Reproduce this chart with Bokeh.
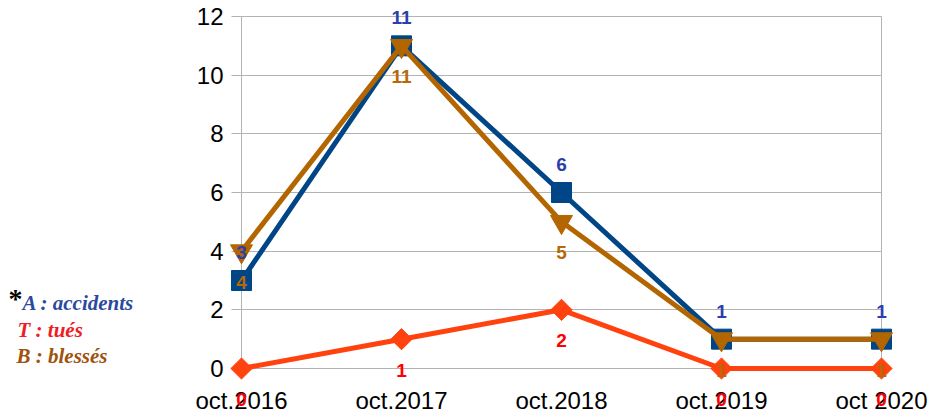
import math
from bokeh.plotting import figure
from bokeh.models import Range1d, FixedTicker, ColumnDataSource
from bokeh.core.properties import value
from bokeh.embed import file_html
from bokeh.resources import INLINE

categories = ["oct.2016", "oct.2017", "oct.2018", "oct.2019", "oct 2020"]
accidents = [3, 11, 6, 1, 1]
tues = [0, 1, 2, 0, 0]
blesses = [4, 11, 5, 1, 1]
y_ticks = [0, 2, 4, 6, 8, 10, 12]
legend_texts = ["A : accidents", "T : tués", "B : blessés"]
legend_colors = ["#2b4a9e", "#ee1c24", "#9e520c"]

x = list(range(len(categories)))

BLUE = "#004586"
RED = "#ff420e"
BROWN = "#b36600"
GRID = "#b3b3b3"

p = figure(width=930, height=416, output_backend="svg", toolbar_location=None,
           x_range=Range1d(0, len(categories) - 1), y_range=Range1d(0, 12),
           min_border_left=241, min_border_right=49, min_border_top=16, min_border_bottom=48)
p.background_fill_color = "white"
p.border_fill_color = "white"
p.outline_line_color = GRID

p.xgrid.visible = False
p.ygrid.grid_line_color = GRID
p.ygrid.ticker = FixedTicker(ticks=y_ticks)

p.yaxis.ticker = FixedTicker(ticks=y_ticks)
p.yaxis.axis_line_color = GRID
p.yaxis.major_tick_line_color = GRID
p.yaxis.major_tick_out = 10
p.yaxis.major_tick_in = 0
p.yaxis.minor_tick_line_color = None
p.yaxis.major_label_standoff = 8
p.yaxis.major_label_text_font = "Liberation Sans"
p.yaxis.major_label_text_font_size = "24px"
p.yaxis.major_label_text_color = "black"

p.xaxis.ticker = FixedTicker(ticks=x)
p.xaxis.major_label_overrides = {i: c for i, c in enumerate(categories)}
p.xaxis.axis_line_color = GRID
p.xaxis.major_tick_line_color = None
p.xaxis.major_tick_out = 0
p.xaxis.major_tick_in = 0
p.xaxis.minor_tick_line_color = None
p.xaxis.major_label_standoff = 18
p.xaxis.major_label_text_font = "Liberation Sans"
p.xaxis.major_label_text_font_size = "24px"
p.xaxis.major_label_text_color = "black"

src = ColumnDataSource(dict(x=x, a=accidents, t=tues, b=blesses,
                            al=[str(v) for v in accidents],
                            tl=[str(v) for v in tues],
                            bl=[str(v) for v in blesses]))

# Accidents
p.line("x", "a", source=src, line_color=BLUE, line_width=5, level="overlay")
p.scatter("x", "a", source=src, marker="square", size=20, fill_color=BLUE, line_color=BLUE, level="overlay")
# Tués
p.line("x", "t", source=src, line_color=RED, line_width=5, level="overlay")
p.scatter("x", "t", source=src, marker="square", angle=math.pi / 4, size=15,
          fill_color=RED, line_color=RED, level="overlay")
# Blessés
p.line("x", "b", source=src, line_color=BROWN, line_width=5, level="overlay")
p.scatter("x", "b", source=src, marker="inverted_triangle", size=22, fill_color=BROWN, line_color=BROWN, level="overlay")

lab = dict(text_font=value("Liberation Sans"), text_font_style="bold", text_font_size="19px",
           text_align="center", text_baseline="middle", level="overlay")
p.text("x", "a", text="al", source=src, text_color="#2a3fae", y_offset=-28, **lab)
p.text("x", "t", text="tl", source=src, text_color="#ff0000", y_offset=31, **lab)
p.text("x", "b", text="bl", source=src, text_color="#b5680c", y_offset=31, **lab)

# Legend block (left of the plot area), placed in data units
leg_src = ColumnDataSource(dict(x=[-1.369, -1.40, -1.406], y=[2.22, 1.30, 0.44],
                                text=legend_texts, color=legend_colors))
p.text("x", "y", text="text", source=leg_src, text_color="color",
       text_font=value("Liberation Serif"), text_font_style="bold italic", text_font_size="21px",
       text_baseline="middle", level="overlay")
p.text(x=[-1.456], y=[2.40], text=["*"], text_color="black",
       text_font=value("Liberation Serif"), text_font_style="bold", text_font_size="28px",
       text_baseline="middle", level="overlay")

open("out.html", "w").write(file_html(p, INLINE))
